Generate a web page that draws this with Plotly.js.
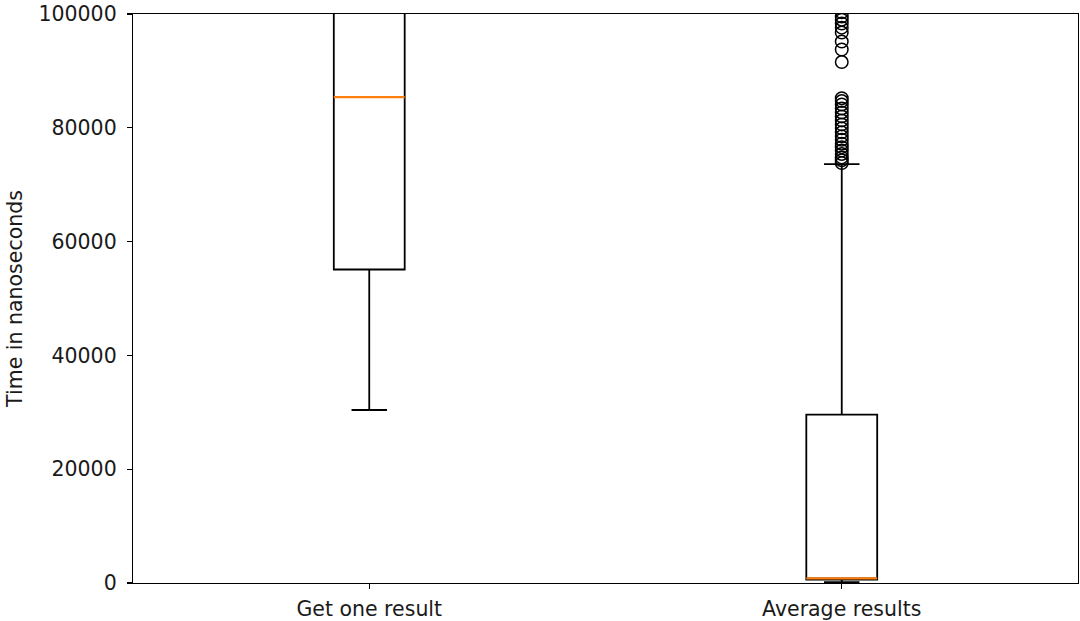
<!DOCTYPE html>
<html>
<head>
<meta charset="utf-8">
<script src="https://cdn.plot.ly/plotly-3.0.1.min.js"></script>
<style>html,body{margin:0;padding:0;background:#fff;}#chart{width:1080px;height:621px;}</style>
</head>
<body>
<div id="chart"></div>
<script>
// Data
var categories = ["Get one result", "Average results"];
var positions = [1, 2];
var q1Values = [55100, 600];
var medianValues = [85400, 800];
var q3Values = [130000, 29600];
var lowerWhisker = [30400, 150];
var upperWhisker = [170000, 73600];
var outliersGetOne = [];
var outliersAverage = [73800, 74300, 74800, 75400, 76000, 76600, 77200, 77900, 78500, 79200, 79900, 80600, 81300, 82000, 82700, 83400, 84100, 84700, 85200,
                       91560, 93760, 95160, 96740, 97600, 98330, 99000, 99560, 100300, 101500];
var outliers = [outliersGetOne, outliersAverage];

var boxWidth = 0.15;
var traces = [];
for (var i = 0; i < categories.length; i++) {
  traces.push({
    type: 'box',
    x: [positions[i]],
    q1: [q1Values[i]],
    median: [medianValues[i]],
    q3: [q3Values[i]],
    lowerfence: [lowerWhisker[i]],
    upperfence: [upperWhisker[i]],
    width: boxWidth,
    whiskerwidth: 0.5,
    boxpoints: false,
    line: {color: '#000000', width: 1.8},
    fillcolor: 'rgba(0,0,0,0)',
    hoverinfo: 'skip',
    showlegend: false
  });
}
for (var j = 0; j < categories.length; j++) {
  traces.push({
    type: 'scatter', mode: 'lines',
    x: [positions[j] - boxWidth / 2, positions[j] + boxWidth / 2],
    y: [medianValues[j], medianValues[j]],
    line: {color: '#ff7f0e', width: 2.2},
    hoverinfo: 'skip', showlegend: false
  });
  if (outliers[j].length) {
    traces.push({
      type: 'scatter', mode: 'markers',
      x: outliers[j].map(function () { return positions[j]; }),
      y: outliers[j],
      marker: {symbol: 'circle-open', size: 12.5, color: '#000000', line: {width: 1.5, color: '#000000'}},
      cliponaxis: true,
      hoverinfo: 'skip', showlegend: false
    });
  }
}

var layout = {
  width: 1080, height: 621,
  margin: {l: 133, r: 2, t: 14, b: 38},
  paper_bgcolor: '#ffffff', plot_bgcolor: '#ffffff',
  font: {family: 'DejaVu Sans', size: 20.5, color: '#1a1a1a'},
  showlegend: false,
  xaxis: {
    range: [0.5, 2.5], tickmode: 'array', tickvals: positions, ticktext: categories,
    showgrid: false, zeroline: false, showline: true, mirror: true, linecolor: '#000000', linewidth: 1.2,
    ticks: 'outside', ticklen: 5, tickcolor: '#000000', tickwidth: 1.2, ticklabelstandoff: 2
  },
  yaxis: {
    range: [0, 100000], tickmode: 'array', tickvals: [0, 20000, 40000, 60000, 80000, 100000],
    ticktext: ['0', '20000', '40000', '60000', '80000', '100000'],
    showgrid: false, zeroline: false, showline: true, mirror: true, linecolor: '#000000', linewidth: 1.2,
    ticks: 'outside', ticklen: 5, tickcolor: '#000000', tickwidth: 1.2, ticklabelstandoff: 6,
    title: {text: 'Time in nanoseconds', font: {size: 20.5}, standoff: 10}
  }
};
Plotly.newPlot('chart', traces, layout, {staticPlot: true, displayModeBar: false});
</script>
</body>
</html>
